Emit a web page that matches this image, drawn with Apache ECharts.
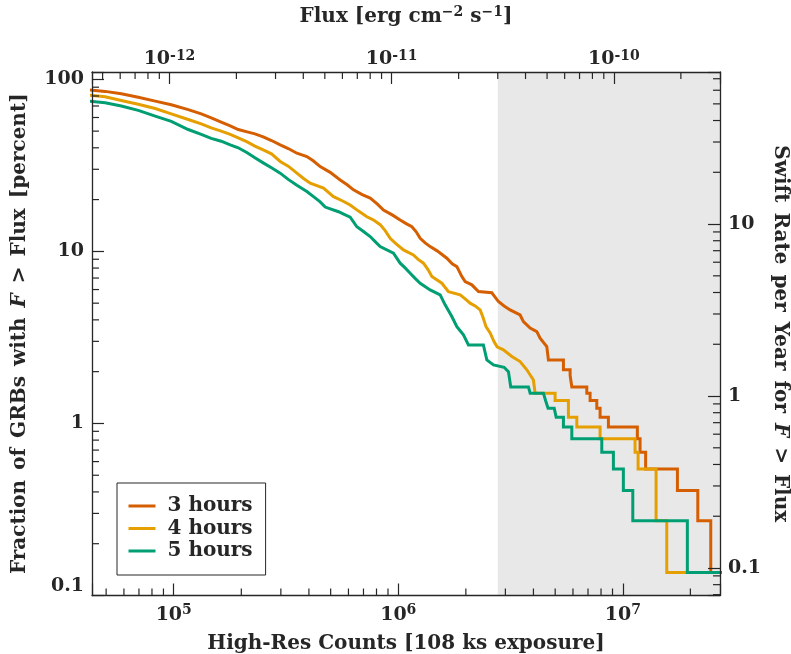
<!DOCTYPE html>
<html><head><meta charset="utf-8">
<script src="https://cdn.jsdelivr.net/npm/echarts@6/dist/echarts.min.js"></script>
<style>html,body{margin:0;padding:0;background:#fff}#c{width:791px;height:654px}</style>
</head><body><div id="c"></div>
<script>
// ---------------- data ----------------
const seriesNames = ['3 hours', '4 hours', '5 hours'];

const counts3h = [40000, 49500, 58400, 69500, 82700, 97500, 116000, 132600, 146900, 162700, 178500, 193800, 212400, 229900, 250300, 272500, 298000, 323500, 353600, 391700, 417900, 449000, 497600, 551200, 592200, 631700, 690800, 749800, 805400, 859200, 939300, 1019700, 1084300, 1150000, 1201800, 1252000, 1317800, 1386800, 1490000, 1646000, 1738000, 1824000, 1920000, 1986000, 2127000, 2276000, 2610000, 2793000, 2961000, 3149000, 3489000, 3609000, 3867000, 4141000, 4283000, 4587000, 4664000, 4664000, 5440000, 5440000, 5827000, 5827000, 5929000, 5929000, 6914000, 6914000, 7152000, 7152000, 7659000, 7659000, 7923000, 7923000, 8629000, 8629000, 11610000, 11610000, 11940000, 11940000, 12640000, 12640000, 17510000, 17510000, 21580000, 21580000, 24650000, 24650000, 30000000];
const pct3h = [87.2, 85.1, 82.4, 78.6, 74.7, 71.1, 66.7, 63.0, 59.7, 56.4, 53.7, 51.1, 49.5, 48.2, 46.3, 44.1, 41.6, 39.6, 37.2, 35.6, 33.6, 31.1, 28.8, 26.0, 24.4, 22.8, 21.4, 20.4, 18.9, 17.4, 16.3, 15.2, 14.5, 13.9, 13.0, 11.9, 11.2, 10.66, 10.07, 9.13, 8.46, 8.16, 7.14, 6.67, 6.39, 5.84, 5.75, 5.11, 4.82, 4.57, 4.27, 3.91, 3.58, 3.42, 3.13, 2.80, 2.80, 2.34, 2.34, 2.05, 2.05, 1.90, 1.90, 1.63, 1.63, 1.50, 1.50, 1.36, 1.36, 1.224, 1.224, 1.088, 1.088, 0.952, 0.952, 0.816, 0.816, 0.680, 0.680, 0.544, 0.544, 0.408, 0.408, 0.272, 0.272, 0.136, 0.136];

const counts4h = [40000, 49500, 58400, 69500, 82700, 97500, 116000, 132600, 146900, 162700, 178500, 193800, 212400, 229900, 250300, 272500, 298000, 323500, 353600, 377300, 405300, 464500, 514600, 562600, 610700, 663000, 724800, 773200, 830600, 874400, 920300, 978700, 1055000, 1168000, 1226000, 1295000, 1359000, 1411000, 1564000, 1673000, 1887000, 1986000, 2090000, 2199000, 2316000, 2388000, 2462000, 2566000, 2673000, 2756000, 2940000, 3205000, 3489000, 3737000, 3999000, 4069000, 4995000, 4995000, 5726000, 5726000, 6241000, 6241000, 7923000, 7923000, 11340000, 11340000, 11700000, 11700000, 14070000, 14070000, 15700000, 15700000, 30000000];
const pct4h = [81.6, 79.1, 75.3, 71.6, 67.7, 63.0, 58.4, 55.1, 52.2, 50.0, 47.9, 45.7, 43.3, 40.9, 38.9, 36.9, 33.3, 31.3, 28.5, 26.6, 24.9, 23.3, 20.8, 19.7, 18.6, 17.2, 15.9, 15.25, 14.3, 13.2, 11.9, 11.06, 10.2, 9.54, 8.98, 8.54, 7.81, 7.14, 6.53, 5.84, 5.59, 5.29, 5.00, 4.82, 4.57, 4.11, 3.64, 3.36, 2.98, 2.79, 2.68, 2.45, 2.29, 2.05, 1.79, 1.50, 1.50, 1.36, 1.36, 1.088, 1.088, 0.952, 0.952, 0.816, 0.816, 0.680, 0.680, 0.544, 0.544, 0.272, 0.272, 0.136, 0.136];

const counts5h = [40000, 49500, 58400, 69500, 82700, 97500, 116000, 132600, 146900, 162700, 178500, 193800, 212400, 229900, 250300, 272500, 298000, 323500, 353600, 391700, 419300, 449000, 472600, 541800, 574300, 610700, 654100, 697800, 749800, 789200, 830600, 951900, 1019700, 1073000, 1130000, 1189000, 1252000, 1387000, 1537000, 1617000, 1732000, 1824000, 1951000, 2054000, 2394000, 2480000, 2654000, 2960000, 3095000, 3170000, 3800000, 3867000, 4431000, 4530000, 4600000, 4648000, 4950000, 5050000, 5440000, 5440000, 5929000, 5929000, 8062000, 8062000, 9082000, 9082000, 10060000, 10060000, 11080000, 11080000, 19390000, 19390000, 30000000];
const pct5h = [75.3, 73.0, 69.9, 66.0, 61.1, 57.0, 51.1, 47.9, 45.4, 43.7, 41.6, 40.0, 37.4, 35.0, 32.7, 30.6, 28.5, 26.2, 24.2, 22.3, 20.8, 19.4, 18.1, 17.0, 16.4, 15.8, 13.9, 13.1, 12.2, 11.4, 10.66, 9.76, 8.54, 8.02, 7.47, 6.97, 6.53, 5.97, 5.59, 4.89, 4.18, 3.65, 3.27, 2.86, 2.86, 2.34, 2.19, 2.12, 2.00, 1.63, 1.63, 1.50, 1.50, 1.36, 1.36, 1.224, 1.224, 1.088, 1.088, 0.952, 0.952, 0.816, 0.816, 0.680, 0.680, 0.544, 0.544, 0.408, 0.408, 0.272, 0.272, 0.136, 0.136];

// shaded region starts at this flux
const shadeFluxMin = 3e-11;

// axis ranges
const countRange = [43250, 2.71e7];
const fluxRange = [4.48e-13, 3.0e-10];
const pctRange = [0.1, 110.3];
const rateRange = [0.0692, 76.6];

// tick labels
const countTicks = [1e5, 1e6, 1e7];
const countTickLabels = ['10{sup|5}', '10{sup|6}', '10{sup|7}'];
const fluxTicks = [1e-12, 1e-11, 1e-10];
const fluxTickLabels = ['10{sup|-12}', '10{sup|-11}', '10{sup|-10}'];
const pctTicks = [0.1, 1, 10, 100];
const pctTickLabels = ['{low|0.1}', '1', '10', '100'];
const rateTicks = [0.1, 1, 10];
const rateTickLabels = ['0.1', '1', '10'];

// ---------------- styling ----------------
const FONT = '"DejaVu Serif", "Liberation Serif", serif';
const INK = '#262626';
const COLORS = ['#D55E00', '#E69F00', '#009E73'];
const SP = '\u2002';

function labelFor(ticks, labels) {
  return function (v) {
    const i = ticks.findIndex(t => Math.abs(Math.log10(v) - Math.log10(t)) < 1e-6);
    return i < 0 ? '' : labels[i];
  };
}
function minorValues(lo, hi) {
  const out = [];
  for (let e = Math.floor(Math.log10(lo)) - 1; e <= Math.ceil(Math.log10(hi)); e++) {
    for (let m = 2; m <= 9; m++) {
      const v = m * Math.pow(10, e);
      if (v > lo && v < hi) out.push(v);
    }
  }
  return out;
}
const xRef = [1e6, 1e-11], yRef = [1, 1];
function minorTickSeries(xIdx, yIdx, side, values, len) {
  const horiz = side === 'bottom' || side === 'top';
  return {
    type: 'custom', xAxisIndex: xIdx, yAxisIndex: yIdx, silent: true, z: 11, animation: false, clip: false,
    data: values.map(v => horiz ? [v, yRef[yIdx]] : [xRef[xIdx], v]),
    renderItem: function (params, api) {
      const cs = params.coordSys;
      const p = api.coord([api.value(0), api.value(1)]);
      let x1, y1, x2, y2;
      if (horiz) {
        if (p[0] < cs.x + 0.5 || p[0] > cs.x + cs.width - 0.5) return;
        x1 = x2 = p[0];
        if (side === 'bottom') { y1 = cs.y + cs.height; y2 = y1 - len; }
        else { y1 = cs.y; y2 = y1 + len; }
      } else {
        if (p[1] < cs.y + 0.5 || p[1] > cs.y + cs.height - 0.5) return;
        y1 = y2 = p[1];
        if (side === 'left') { x1 = cs.x; x2 = x1 + len; }
        else { x1 = cs.x + cs.width; x2 = x1 - len; }
      }
      return { type: 'line', shape: { x1, y1, x2, y2 }, style: { stroke: INK, lineWidth: 1.2 } };
    }
  };
}

const axisLineStyle = { color: INK, width: 1.3 };
const tickStyle = { color: INK, width: 1.2 };
const baseLabel = { fontFamily: FONT, fontSize: 19, fontWeight: 'bold', color: INK };
const titleText = { fontFamily: FONT, fontSize: 20, fontWeight: 'bold', color: INK };

function zip(a, b) { return a.map((v, i) => [v, b[i]]); }

const chart = echarts.init(document.getElementById('c'));
chart.setOption({
  animation: false,
  backgroundColor: '#fff',
  grid: { left: 92, right: 71, top: 72, bottom: 58.5, containLabel: false, outerBoundsMode: 'none' },
  legend: {
    orient: 'vertical', left: 117, top: 483,
    data: seriesNames, icon: 'rect', itemWidth: 27, itemHeight: 3, itemGap: 0.5,
    padding: [12, 13, 13, 11.5], backgroundColor: '#fff', borderColor: INK, borderWidth: 1, borderRadius: 0,
    textStyle: { fontFamily: FONT, fontSize: 20, fontWeight: 'bold', color: INK, lineHeight: 22, padding: [0, 0, 0, 7] },
    selectedMode: false, z: 20
  },
  xAxis: [
    {
      type: 'log', position: 'bottom', min: countRange[0], max: countRange[1], z: 10,
      axisLine: { show: true, lineStyle: axisLineStyle },
      axisTick: { show: true, inside: true, length: 12, lineStyle: tickStyle },
      splitLine: { show: false }, minorTick: { show: false },
      axisLabel: Object.assign({}, baseLabel, {
        margin: 8, lineHeight: 24, formatter: labelFor(countTicks, countTickLabels),
        rich: { sup: { fontFamily: FONT, fontWeight: 'bold', fontSize: 14, lineHeight: 14, verticalAlign: 'top', color: INK } }
      }),
      name: 'High-Res Counts [108 ks exposure]', nameLocation: 'middle', nameGap: 30,
      nameTextStyle: Object.assign({}, titleText, { lineHeight: 22 })
    },
    {
      type: 'log', position: 'top', min: fluxRange[0], max: fluxRange[1], z: 10,
      axisLine: { show: true, lineStyle: axisLineStyle },
      axisTick: { show: true, inside: true, length: 12, lineStyle: tickStyle },
      splitLine: { show: false }, minorTick: { show: false },
      axisLabel: Object.assign({}, baseLabel, {
        margin: 3, lineHeight: 20, formatter: labelFor(fluxTicks, fluxTickLabels),
        rich: { sup: { fontFamily: FONT, fontWeight: 'bold', fontSize: 14, lineHeight: 12, verticalAlign: 'top', color: INK } }
      }),
      name: 'Flux [erg cm{sup|−2} s{sup|−1}]', nameLocation: 'middle', nameGap: 43,
      nameTextStyle: Object.assign({}, titleText, {
        lineHeight: 24,
        rich: { sup: { fontFamily: FONT, fontWeight: 'bold', fontSize: 14, lineHeight: 13, verticalAlign: 'top', color: INK } }
      })
    }
  ],
  yAxis: [
    {
      type: 'log', position: 'left', min: pctRange[0], max: pctRange[1], z: 10,
      axisLine: { show: true, lineStyle: axisLineStyle },
      axisTick: { show: true, inside: true, length: 12, lineStyle: tickStyle },
      splitLine: { show: false }, minorTick: { show: false },
      axisLabel: Object.assign({}, baseLabel, {
        margin: 8, formatter: labelFor(pctTicks, pctTickLabels),
        rich: { low: { fontFamily: FONT, fontWeight: 'bold', fontSize: 19, color: INK, padding: [0, 0, 18, 0] } }
      }),
      name: ['Fraction', 'of', 'GRBs', 'with', '{i|F}', '>', 'Flux', '[percent]'].join(SP), nameLocation: 'middle', nameGap: 61,
      nameTextStyle: Object.assign({}, titleText, {
        lineHeight: 22,
        rich: { i: { fontFamily: FONT, fontWeight: 'bold', fontSize: 20, fontStyle: 'italic', color: INK } }
      })
    },
    {
      type: 'log', position: 'right', min: rateRange[0], max: rateRange[1], z: 10,
      axisLine: { show: true, lineStyle: axisLineStyle },
      axisTick: { show: true, inside: true, length: 12, lineStyle: tickStyle },
      splitLine: { show: false }, minorTick: { show: false },
      axisLabel: Object.assign({}, baseLabel, { margin: 8, formatter: labelFor(rateTicks, rateTickLabels) }),
      name: ['Swift', 'Rate', 'per', 'Year', 'for', '{i|F}', '>', 'Flux'].join(SP), nameLocation: 'middle', nameGap: 49, nameRotate: -90,
      nameMoveOverlap: false,
      nameTextStyle: Object.assign({}, titleText, {
        lineHeight: 22,
        rich: { i: { fontFamily: FONT, fontWeight: 'bold', fontSize: 20, fontStyle: 'italic', color: INK } }
      })
    }
  ],
  series: [
    {
      type: 'line', name: 'shade', xAxisIndex: 1, yAxisIndex: 0, data: [], silent: true, z: 1,
      markArea: { silent: true, itemStyle: { color: '#e8e8e8' }, data: [[{ xAxis: shadeFluxMin }, { xAxis: fluxRange[1] }]] }
    },
    { type: 'line', name: seriesNames[0], xAxisIndex: 0, yAxisIndex: 0, showSymbol: false, z: 3,
      data: zip(counts3h, pct3h), lineStyle: { color: COLORS[0], width: 3, join: 'miter' }, itemStyle: { color: COLORS[0] } },
    { type: 'line', name: seriesNames[1], xAxisIndex: 0, yAxisIndex: 0, showSymbol: false, z: 3,
      data: zip(counts4h, pct4h), lineStyle: { color: COLORS[1], width: 3, join: 'miter' }, itemStyle: { color: COLORS[1] } },
    { type: 'line', name: seriesNames[2], xAxisIndex: 0, yAxisIndex: 0, showSymbol: false, z: 3,
      data: zip(counts5h, pct5h), lineStyle: { color: COLORS[2], width: 3, join: 'miter' }, itemStyle: { color: COLORS[2] } },
    minorTickSeries(0, 0, 'bottom', minorValues(countRange[0], countRange[1]), 7),
    minorTickSeries(1, 0, 'top', minorValues(fluxRange[0], fluxRange[1]), 7),
    minorTickSeries(0, 0, 'left', minorValues(pctRange[0], pctRange[1]), 7),
    minorTickSeries(0, 1, 'right', minorValues(rateRange[0], rateRange[1]), 7)
  ]
});
</script></body></html>
